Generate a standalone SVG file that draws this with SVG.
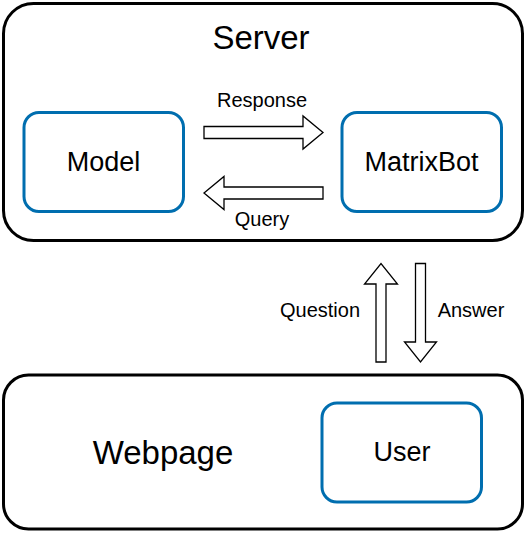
<svg xmlns="http://www.w3.org/2000/svg" width="527" height="533" viewBox="0 0 527 533">
<style>
.outer{fill:#fff;stroke:#000;stroke-width:3}
.inner{fill:#fff;stroke:#006EAF;stroke-width:3}
.arr{fill:#fff;stroke:#000;stroke-width:1.3;stroke-linejoin:miter}
text{font-family:"Liberation Sans",Arial,Helvetica,sans-serif;fill:#000;text-anchor:middle;dominant-baseline:central}
.big{font-size:33px}
.mid{font-size:27px}
.lbl{font-size:20px}
</style>
<rect width="527" height="533" fill="#fff"/>
<g id="server">
<rect class="outer" x="3.5" y="3.5" width="519" height="237" rx="30"/>
<text class="big" x="261" y="37">Server</text>
</g>
<g id="webpage">
<rect class="outer" x="3.5" y="375" width="519" height="154" rx="25"/>
<text class="big" x="163" y="452">Webpage</text>
</g>
<g id="model">
<rect class="inner" x="24" y="112.5" width="159.5" height="99" rx="15"/>
<text class="mid" x="103.5" y="162">Model</text>
</g>
<g id="matrixbot">
<rect class="inner" x="342" y="112.5" width="159.5" height="99" rx="15"/>
<text class="mid" x="421.5" y="162">MatrixBot</text>
</g>
<g id="user">
<rect class="inner" x="322" y="403" width="159.5" height="99" rx="15"/>
<text class="mid" x="402" y="452">User</text>
</g>
<g id="connectors">
<polygon class="arr" points="204,126.5 303,126.5 303,116 323,132.5 303,149 303,138.5 204,138.5"/>
<text class="lbl" x="262" y="100">Response</text>
<polygon class="arr" points="323,187 224,187 224,176.5 204,193 224,209.5 224,199 323,199"/>
<text class="lbl" x="262" y="219">Query</text>
<polygon class="arr" points="376,362 376,284 364.5,284 381,263.5 397.5,284 386,284 386,362"/>
<text class="lbl" x="320" y="310">Question</text>
<polygon class="arr" points="415.5,263.5 425.5,263.5 425.5,342 436.5,342 420.5,362 404.5,342 415.5,342"/>
<text class="lbl" x="471" y="310">Answer</text>
</g>
</svg>
